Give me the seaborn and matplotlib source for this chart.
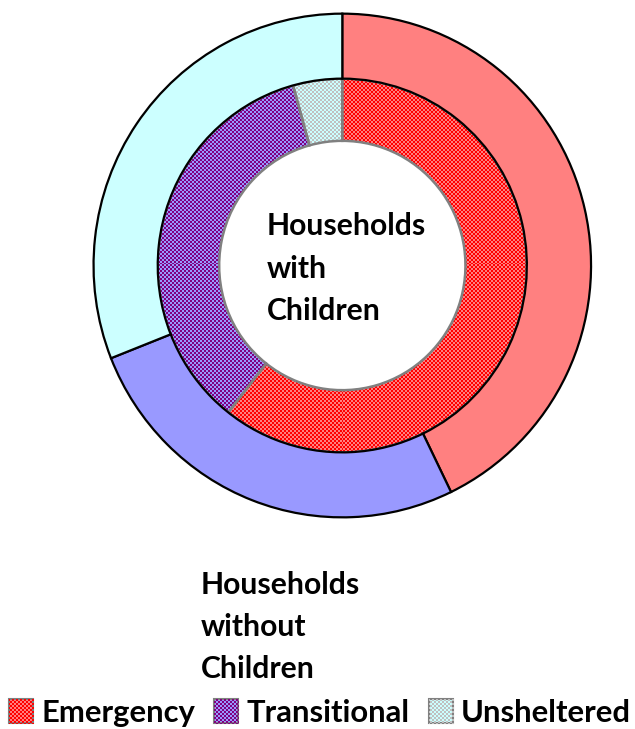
import numpy as np
import matplotlib
matplotlib.use("Agg")
import matplotlib.pyplot as plt
import seaborn as sns
from matplotlib.patches import Patch

sns.set_theme(style="white")
plt.rcParams['font.family'] = ['Lato', 'DejaVu Sans']
plt.rcParams['text.color'] = 'black'

# ---- data ----
categories = ["Emergency", "Transitional", "Unsheltered"]
without_children = [42.8, 26.2, 31.0]   # outer ring (%)
with_children = [60.6, 35.1, 4.3]       # inner ring (%)

base_colors = ["#FF8080", "#9999FF", "#CCFFFF"]
check_colors = ["#FF0000", "#800080", "#C0C0C0"]

W, H = 635, 729
fig = plt.figure(figsize=(W / 100, H / 100), dpi=100)
fig.patch.set_facecolor("white")

# axes in pixel geometry
cx, cy = 342.3, 729 - 265.5
rx, ry = 249.5, 252.6
ax = fig.add_axes([(cx - rx) / W, (cy - ry) / H, 2 * rx / W, 2 * ry / H])
ax.set_axis_off()

r_mid = 0.742
r_hole = 0.495

# inner ring fills (no edges)
inner, _ = ax.pie(with_children, radius=r_mid, startangle=90, counterclock=False,
                  colors=base_colors, wedgeprops=dict(width=r_mid - r_hole, linewidth=0))
for w in inner:
    w.set_zorder(1)

# checker overlays
npx_w, npx_h = int(round(2 * rx)), int(round(2 * ry))
jj, ii = np.meshgrid(np.arange(npx_w), np.arange(npx_h))
mask = ((jj // 2) + (ii // 2)) % 2 == 0


def checker_rgba(color, m):
    rgba = np.zeros(m.shape + (4,))
    c = matplotlib.colors.to_rgba(color)
    rgba[m] = c
    return rgba


for w, cc in zip(inner, check_colors):
    im = ax.imshow(checker_rgba(cc, mask), extent=(-1, 1, -1, 1), aspect="auto",
                   interpolation="nearest", zorder=1.5)
    im.set_clip_path(w)

# inner ring edges
inner_e, _ = ax.pie(with_children, radius=r_mid, startangle=90, counterclock=False,
                    colors=["none"] * 3,
                    wedgeprops=dict(width=r_mid - r_hole, linewidth=1.8, edgecolor="#808080",
                                    facecolor="none"))
for w in inner_e:
    w.set_zorder(2)

# outer ring
outer, _ = ax.pie(without_children, radius=1.0, startangle=90, counterclock=False,
                  colors=base_colors,
                  wedgeprops=dict(width=1.0 - r_mid, linewidth=1.6, edgecolor="black"))
for w in outer:
    w.set_zorder(3)

ax.set_xlim(-1.003, 1.003)
ax.set_ylim(-1.003, 1.003)
ax.set_aspect("auto")

# ring labels
fs = 21.7
fig.text(267 / W, 1 - 235 / H, "Households", fontsize=fs, fontweight="bold", va="baseline", ha="left")
fig.text(267 / W, 1 - 277.5 / H, "with", fontsize=fs, fontweight="bold", va="baseline", ha="left")
fig.text(267 / W, 1 - 320 / H, "Children", fontsize=fs, fontweight="bold", va="baseline", ha="left")
fig.text(201 / W, 1 - 594 / H, "Households", fontsize=fs, fontweight="bold", va="baseline", ha="left")
fig.text(201 / W, 1 - 636 / H, "without", fontsize=fs, fontweight="bold", va="baseline", ha="left")
fig.text(201 / W, 1 - 678 / H, "Children", fontsize=fs, fontweight="bold", va="baseline", ha="left")

# legend
handles = [Patch(facecolor=c, edgecolor="#808080", linewidth=1.5) for c in base_colors]
leg = fig.legend(handles, categories, loc="lower center", bbox_to_anchor=(0.504, 0.003),
                 ncol=3, frameon=False, prop=dict(weight="bold", size=22.3),
                 handlelength=0.78, handleheight=0.78, handletextpad=0.26,
                 columnspacing=0.62, borderaxespad=0.0, borderpad=0.0)

# checker overlays in legend handles
fmask_j, fmask_i = np.meshgrid(np.arange(W), np.arange(H))
fmask = ((fmask_j // 2) + (fmask_i // 2)) % 2 == 0
fig.canvas.draw()
for p, cc in zip(leg.get_patches(), check_colors):
    fim = fig.figimage(checker_rgba(cc, fmask), xo=0, yo=0, origin="lower", zorder=6)
    fim.set_clip_path(p)

fig.savefig("out.png", dpi=100, facecolor="white")
